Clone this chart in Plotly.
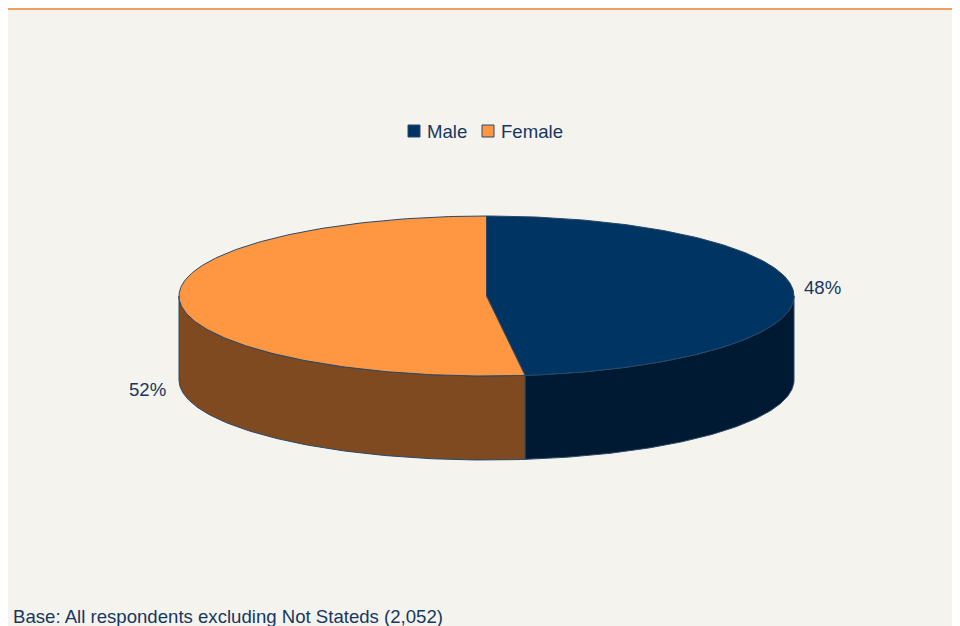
import numpy as np
import plotly.graph_objects as go

categories = ["Male", "Female"]
values = [48, 52]
top_colors = ["#003462", "#FF9642"]
side_colors = ["#001A33", "#7F4A1F"]
label_texts = ["48%", "52%"]
footnote = "Base: All respondents excluding Not Stateds (2,052)"

PW, PH = 960, 626   # page size
OFF = 8             # page offset of the figure (body margin)
W, H = PW - OFF, PH - OFF
cx, cy, rx, ry, depth = 486.5, 296.0, 307.5, 80.0, 84.0
edge = "#2A4866"
txt = "#17375E"
FS = 18.6

fig = go.Figure()

def pt(a_deg, dy=0.0):
    a = np.radians(a_deg)
    return cx + rx * np.cos(a), cy - ry * np.sin(a) + dy

total = sum(values)
start = 90.0
slices = []
for v in values:
    sweep = 360.0 * v / total
    slices.append((start, start - sweep))  # clockwise
    start -= sweep

# side faces (front half: angles between -180 and 0)
for (a0, a1), col in zip(slices, side_colors):
    for shift in (0, -360, 360):
        hi, lo = a0 + shift, a1 + shift
        s_hi, s_lo = min(hi, 0.0), max(lo, -180.0)
        if s_hi > s_lo:
            ang = np.linspace(s_hi, s_lo, 120)
            xs_t, ys_t = pt(ang)
            xs_b, ys_b = pt(ang[::-1], depth)
            xs = np.concatenate([xs_t, xs_b, xs_t[:1]])
            ys = np.concatenate([ys_t, ys_b, ys_t[:1]])
            fig.add_trace(go.Scatter(x=xs, y=ys, mode="lines", fill="toself",
                                     fillcolor=col, line=dict(color=edge, width=1),
                                     hoverinfo="skip", showlegend=False))

# top faces
for (a0, a1), col in zip(slices, top_colors):
    ang = np.linspace(a0, a1, 240)
    xs, ys = pt(ang)
    xs = np.concatenate([[cx], xs, [cx]])
    ys = np.concatenate([[cy], ys, [cy]])
    fig.add_trace(go.Scatter(x=xs, y=ys, mode="lines", fill="toself",
                             fillcolor=col, line=dict(color=edge, width=1),
                             hoverinfo="skip", showlegend=False))

# legend (manual, compact like the reference)
leg_y = 131
leg_x = [414, 488]
for name, col, x0 in zip(categories, top_colors, leg_x):
    fig.add_shape(type="rect", x0=x0 - 6, x1=x0 + 6, y0=leg_y - 6, y1=leg_y + 6,
                  xref="x", yref="y", fillcolor=col, line=dict(color=edge, width=1))
    fig.add_annotation(x=x0 + 11, y=leg_y, text=name, showarrow=False,
                       xanchor="left", yanchor="middle",
                       font=dict(size=FS, color=txt))

# labels
(m0, m1), (f0, f1) = slices
lx, ly = pt((m0 + m1) / 2)
fig.add_annotation(x=lx + 9, y=ly - 3, text=label_texts[0], showarrow=False,
                   xanchor="left", yanchor="middle",
                   font=dict(size=FS, color=txt))
fx, fy = pt((f0 + f1) / 2, depth)
fig.add_annotation(x=fx - 12, y=fy + 4, text=label_texts[1], showarrow=False,
                   xanchor="right", yanchor="middle",
                   font=dict(size=FS, color=txt))

fig.add_annotation(x=11, y=616, text=footnote, showarrow=False,
                   xanchor="left", yanchor="middle",
                   font=dict(size=FS, color=txt))

fig.add_shape(type="rect", x0=OFF, x1=PW, y0=9.5, y1=PH, xref="x", yref="y",
              fillcolor="#F4F3EE", line=dict(width=0), layer="below")
fig.add_shape(type="line", x0=OFF, x1=PW, y0=9, y1=9, xref="x", yref="y",
              line=dict(color="#F07F2A", width=1.5))

fig.update_layout(
    width=W, height=H, margin=dict(l=0, r=0, t=0, b=0),
    paper_bgcolor="white", plot_bgcolor="rgba(0,0,0,0)",
    font=dict(family="Liberation Sans, Arial, sans-serif", size=FS, color=txt),
    xaxis=dict(range=[OFF, PW], visible=False, fixedrange=True),
    yaxis=dict(range=[PH, OFF], visible=False, fixedrange=True),
    showlegend=False,
)

fig.write_html("out.html")
